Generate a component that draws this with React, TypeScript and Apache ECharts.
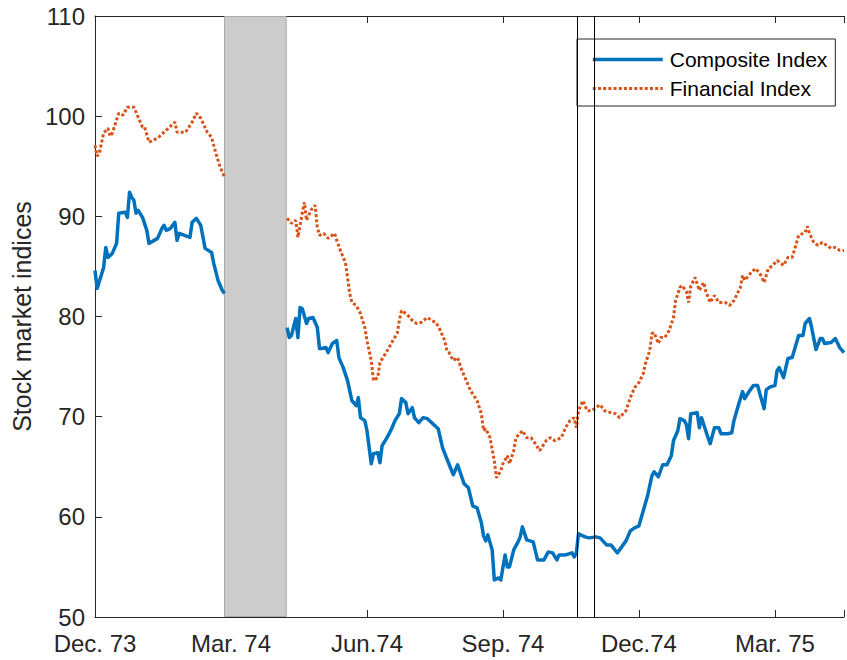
import { useEffect, useRef } from 'react';
import * as echarts from 'echarts';

// Time axis is measured in trading days from the start of Dec. 1973 (63 per quarter).
const DAYS_PER_QUARTER = 63;
const LAST_DAY = 347;
const quarterLabels = ['Dec. 73', 'Mar. 74', 'Jun.74', 'Sep. 74', 'Dec.74', 'Mar. 75'];

const yMin = 50;
const yMax = 110;
const yStep = 10;

// Shaded window (no observations inside it) and the two event dates.
const shadedWindow: [number, number] = [60, 88.6];
const eventDays = [223.6, 231.2];

// [trading day, index level]
const composite: [number, number | null][] = [
  [0, 84.6], [1, 82.8], [4, 84.9], [5, 86.9], [6, 85.9], [8, 86.3], [10, 87.3], [11, 90.3],
  [14, 90.4], [15, 89.9], [16, 92.4], [17, 91.9], [18, 91.6], [19, 90.3], [20, 90.6], [22, 89.9],
  [24, 88.6], [25, 87.3], [29, 87.8], [31, 88.8], [32, 89.1], [33, 88.6], [35, 88.8], [37, 89.4],
  [38, 87.6], [39, 88.3], [44, 87.9], [45, 89.4], [47, 89.8], [49, 89.1], [51, 86.8], [54, 86.4],
  [55, 85.3], [57, 83.6], [59, 82.6], [60, 82.3],
  [74, null],
  [89, 78.9], [90, 77.9], [91, 78.1], [93, 79.8], [94, 77.9], [95, 80.9], [96, 80.8], [98, 79.3],
  [99, 79.8], [101, 79.9], [103, 78.9], [104, 76.8], [105, 76.8], [107, 76.9], [108, 76.4], [110, 77.3],
  [112, 77.6], [113, 75.9], [115, 74.9], [117, 73.6], [119, 71.6], [121, 71.1], [122, 71.9], [123, 69.9],
  [125, 69.6], [126, 68.6], [128, 65.3], [129, 66.3], [131, 66.4], [132, 65.4], [133, 67.1], [135, 67.8],
  [137, 68.6], [139, 69.6], [141, 70.3], [142, 71.8], [144, 71.4], [145, 70.3], [147, 70.9], [148, 69.9],
  [150, 69.4], [152, 69.9], [154, 69.8], [156, 69.4], [159, 68.8], [161, 66.9], [163, 65.8], [166, 64.2],
  [168, 65.2], [171, 63.3], [173, 62.9], [175, 61.1], [177, 60.9], [179, 59.4], [180, 58.1], [181, 57.6],
  [182, 58.2], [184, 56.7], [185, 53.7], [187, 53.9], [188, 53.7], [190, 56.2], [191, 55.0], [192, 55.0],
  [194, 56.7], [196, 57.5], [197, 58.0], [198, 59.0], [200, 57.7], [203, 57.5], [205, 55.7], [208, 55.7],
  [210, 56.5], [212, 56.4], [214, 55.7], [215, 56.2], [218, 56.2], [221, 56.4], [222, 56.0], [223, 56.4],
  [224, 58.3], [227, 58.0], [229, 57.9], [232, 58.0], [234, 57.9], [237, 57.2], [239, 57.2], [242, 56.4],
  [244, 57.0], [246, 57.6], [248, 58.6], [250, 58.9], [252, 59.1], [254, 60.6], [256, 62.1], [258, 64.1],
  [259, 64.5], [261, 64.0], [263, 65.2], [265, 65.2], [267, 66.1], [268, 67.6], [270, 68.6], [271, 69.8],
  [273, 69.6], [274, 69.2], [275, 67.8], [276, 70.3], [279, 70.4], [280, 68.9], [281, 69.9], [284, 67.9],
  [285, 67.3], [287, 68.9], [289, 68.9], [290, 68.3], [293, 68.3], [295, 68.4], [296, 69.6], [298, 71.1],
  [300, 72.5], [301, 71.8], [303, 72.5], [305, 73.1], [307, 73.1], [308, 72.3], [310, 70.8], [311, 72.7],
  [313, 73.0], [315, 73.1], [316, 74.6], [317, 74.9], [319, 73.9], [321, 75.8], [323, 75.9], [326, 78.1],
  [328, 78.1], [329, 79.3], [331, 79.8], [332, 78.9], [334, 76.7], [336, 77.8], [337, 77.8], [338, 77.3],
  [341, 77.4], [343, 77.8], [345, 76.9], [347, 76.4],
];

const financial: [number, number | null][] = [
  [0, 97.1], [1, 96.0], [2, 96.3], [4, 98.3], [6, 98.8], [7, 98.0], [8, 98.3], [11, 100.3],
  [13, 100.1], [15, 100.9], [18, 100.9], [20, 99.9], [22, 98.9], [23, 98.9], [25, 97.4], [29, 97.8],
  [33, 98.6], [37, 99.4], [38, 98.4], [42, 98.4], [45, 99.4], [47, 100.3], [49, 99.8], [52, 98.4],
  [54, 97.9], [56, 96.3], [58, 94.9], [60, 93.9],
  [74, null],
  [89, 89.8], [91, 89.3], [93, 89.6], [94, 87.9], [96, 90.3], [97, 91.4], [98, 89.6], [100, 90.6],
  [102, 91.1], [103, 88.9], [104, 88.1], [106, 88.3], [108, 87.8], [111, 88.3], [112, 87.6], [114, 86.4],
  [116, 85.4], [117, 83.9], [118, 82.3], [119, 81.4], [121, 81.1], [123, 80.3], [125, 78.9], [126, 77.6],
  [128, 75.6], [129, 73.6], [131, 73.9], [132, 75.4], [134, 76.1], [136, 76.8], [138, 77.6], [140, 78.3],
  [141, 79.6], [142, 80.6], [144, 80.3], [145, 80.1], [147, 79.6], [149, 79.3], [151, 79.4], [154, 79.9],
  [156, 79.6], [158, 79.4], [160, 78.6], [162, 77.6], [163, 76.6], [164, 76.4], [166, 75.6], [168, 75.9],
  [170, 74.6], [172, 73.6], [174, 72.6], [177, 71.6], [179, 70.3], [180, 68.6], [181, 68.8], [183, 67.9],
  [185, 65.6], [186, 63.9], [188, 64.6], [189, 65.3], [191, 66.1], [192, 65.3], [194, 66.6], [195, 67.9],
  [198, 68.6], [200, 67.9], [202, 67.9], [204, 67.3], [206, 66.6], [209, 67.6], [211, 67.9], [213, 67.6],
  [216, 67.9], [218, 68.9], [220, 69.6], [222, 69.9], [223, 68.9], [224, 70.6], [226, 71.6], [228, 70.6],
  [230, 70.6], [232, 70.9], [234, 71.2], [236, 70.6], [239, 70.4], [241, 70.3], [243, 69.9], [246, 70.6],
  [248, 71.9], [250, 72.9], [252, 73.4], [254, 74.3], [255, 75.3], [257, 76.6], [258, 78.3], [259, 78.4],
  [261, 77.3], [262, 77.9], [264, 77.9], [266, 78.6], [268, 79.9], [269, 81.6], [271, 82.9], [272, 83.1],
  [274, 82.5], [275, 81.4], [276, 83.0], [278, 83.9], [280, 82.6], [282, 83.4], [283, 82.5], [285, 81.4],
  [287, 82.1], [289, 81.4], [292, 81.4], [294, 81.1], [296, 81.6], [299, 82.9], [300, 84.1], [301, 83.6],
  [304, 84.4], [306, 84.8], [308, 84.3], [310, 83.4], [312, 84.8], [314, 85.1], [316, 85.6], [319, 85.1],
  [321, 85.9], [323, 85.9], [324, 86.6], [326, 88.1], [329, 88.4], [330, 89.0], [331, 88.3], [333, 87.4],
  [335, 87.1], [337, 87.4], [339, 87.1], [341, 86.8], [343, 86.9], [345, 86.6], [347, 86.6],
];

const FONT = "'Liberation Sans', Arial, Helvetica, sans-serif";
const AXIS_COLOR = '#262626';
const BLUE = '#0072BD';
const ORANGE = '#D95319';

const compositeLine = { color: BLUE, width: 3.5, type: 'solid' as const };
const financialLine = { color: ORANGE, width: 3, type: [3, 2.2], cap: 'butt' as const };

function buildOption(): echarts.EChartsCoreOption {
  const axisLine = { show: true, lineStyle: { color: AXIS_COLOR, width: 1 } };
  const tick = { show: true, inside: true, length: 7, lineStyle: { color: AXIS_COLOR, width: 1 } };

  return {
    animation: false,
    backgroundColor: '#ffffff',
    textStyle: { fontFamily: FONT },
    grid: { left: 95, top: 16, right: 0, bottom: 43, containLabel: false },
    legend: {
      orient: 'vertical',
      left: 577,
      top: 39,
      itemWidth: 70,
      itemHeight: 21,
      itemGap: 8,
      padding: [10, 8, 7, 14],
      backgroundColor: '#ffffff',
      borderColor: AXIS_COLOR,
      borderWidth: 1,
      borderRadius: 0,
      selectedMode: false,
      itemStyle: { opacity: 0 },
      textStyle: { fontFamily: FONT, fontSize: 21, color: '#000000', padding: [0, 0, 0, 2] },
      data: [
        { name: 'Composite Index', lineStyle: compositeLine, itemStyle: { opacity: 0 } },
        { name: 'Financial Index', lineStyle: financialLine, itemStyle: { opacity: 0 } },
      ],
    },
    xAxis: [
      {
        type: 'value',
        min: 0,
        max: LAST_DAY,
        interval: DAYS_PER_QUARTER,
        position: 'bottom',
        axisLine,
        axisTick: tick,
        splitLine: { show: false },
        axisLabel: {
          show: true,
          margin: 16,
          fontFamily: FONT,
          fontSize: 24,
          lineHeight: 20,
          color: AXIS_COLOR,
          formatter: (v: number) => quarterLabels[Math.round(v / DAYS_PER_QUARTER)] ?? '',
        },
      },
      {
        type: 'value',
        min: 0,
        max: LAST_DAY,
        interval: DAYS_PER_QUARTER,
        position: 'top',
        axisLine,
        axisTick: tick,
        axisLabel: { show: false },
        splitLine: { show: false },
      },
    ],
    yAxis: {
      type: 'value',
      min: yMin,
      max: yMax,
      interval: yStep,
      axisLine,
      axisTick: tick,
      splitLine: { show: false },
      axisLabel: { margin: 10, fontFamily: FONT, fontSize: 24, lineHeight: 20, color: AXIS_COLOR },
      name: 'Stock market indices',
      nameLocation: 'middle',
      nameRotate: 90,
      nameGap: 58,
      nameTextStyle: { fontFamily: FONT, fontSize: 25, color: AXIS_COLOR },
    },
    series: [
      {
        name: 'Composite Index',
        type: 'line',
        data: composite,
        showSymbol: false,
        symbol: 'none',
        connectNulls: false,
        silent: true,
        lineStyle: { ...compositeLine, join: 'round' },
        itemStyle: { color: BLUE },
        emphasis: { disabled: true },
        z: 3,
        markArea: {
          silent: true,
          itemStyle: { color: '#cccccc', borderColor: '#aaaaaa', borderWidth: 1 },
          data: [[
            { xAxis: shadedWindow[0], yAxis: yMin + 0.05 },
            { xAxis: shadedWindow[1], yAxis: yMax - 0.05 },
          ]],
        },
        markLine: {
          silent: true,
          symbol: ['none', 'none'],
          label: { show: false },
          lineStyle: { color: '#000000', width: 1, type: 'solid' },
          data: eventDays.map((d) => ({ xAxis: d })),
        },
      },
      {
        name: 'Financial Index',
        type: 'line',
        data: financial,
        showSymbol: false,
        symbol: 'none',
        connectNulls: false,
        silent: true,
        lineStyle: financialLine,
        itemStyle: { color: ORANGE },
        emphasis: { disabled: true },
        z: 3,
      },
    ],
  };
}

export default function App() {
  const ref = useRef<HTMLDivElement>(null);

  useEffect(() => {
    if (!ref.current) return;
    const chart = echarts.init(ref.current, null, { renderer: 'svg' });
    chart.setOption(buildOption());
    return () => chart.dispose();
  }, []);

  return (
    <div
      ref={ref}
      style={{ position: 'absolute', left: 0, top: 0, width: 847, height: 660, background: '#ffffff' }}
    />
  );
}
